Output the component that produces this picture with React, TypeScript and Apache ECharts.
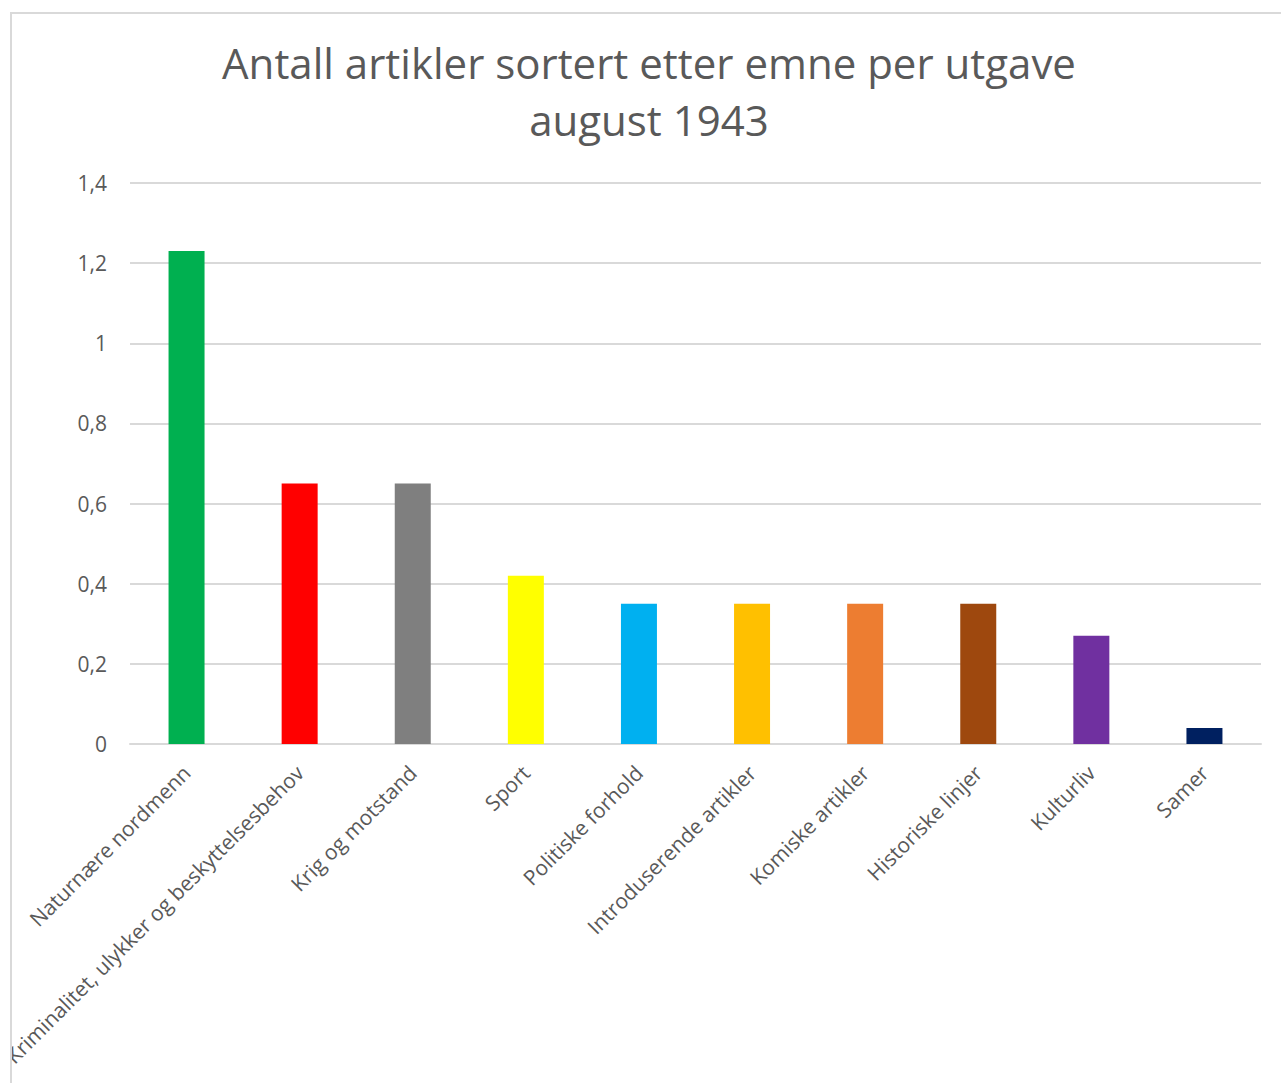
import React, { useEffect, useRef } from "react";
import * as echarts from "echarts";

const titleLines = ["Antall artikler sortert etter emne per utgave", "august 1943"];
const categories = [
  "Naturnære nordmenn",
  "Kriminalitet, ulykker og beskyttelsesbehov",
  "Krig og motstand",
  "Sport",
  "Politiske forhold",
  "Introduserende artikler",
  "Komiske artikler",
  "Historiske linjer",
  "Kulturliv",
  "Samer",
];
const values = [1.23, 0.65, 0.65, 0.42, 0.35, 0.35, 0.35, 0.35, 0.27, 0.04];
const barColors = [
  "#00B050",
  "#FF0000",
  "#7F7F7F",
  "#FFFF00",
  "#00B0F0",
  "#FFC000",
  "#ED7D31",
  "#9E480E",
  "#7030A0",
  "#002060",
];
const yMin = 0;
const yMax = 1.4;
const yStep = 0.2;

const FONT = "'Open Sans', sans-serif";
const TEXT = "#595959";

export default function App() {
  const ref = useRef<HTMLDivElement>(null);
  useEffect(() => {
    if (!ref.current) return;
    const chart = echarts.init(ref.current, undefined, { renderer: "svg" });
    chart.setOption({
      animation: false,
      backgroundColor: "#ffffff",
      title: {
        text: titleLines.join("\n"),
        left: 637,
        top: 20,
        padding: 0,
        textAlign: "center",
        textStyle: {
          fontFamily: FONT,
          fontSize: 42,
          fontWeight: "normal",
          color: TEXT,
          lineHeight: 57,
        },
      },
      grid: {
        left: 118,
        right: 20,
        top: 169,
        bottom: 339,
        containLabel: false,
        outerBoundsMode: "none",
      },
      xAxis: {
        type: "category",
        data: categories,
        axisLine: { show: true, lineStyle: { color: "#D9D9D9", width: 2 } },
        axisTick: { show: false },
        axisLabel: {
          interval: 0,
          rotate: 45,
          margin: 25,
          fontFamily: FONT,
          fontSize: 21,
          color: TEXT,
        },
      },
      yAxis: {
        type: "value",
        min: yMin,
        max: yMax,
        interval: yStep,
        axisLine: { show: false },
        axisTick: { show: false },
        splitLine: { lineStyle: { color: "#D9D9D9", width: 2 } },
        axisLabel: {
          margin: 23,
          fontFamily: FONT,
          fontSize: 21,
          color: TEXT,
          formatter: (v: number) => String(Math.round(v * 10) / 10).replace(".", ","),
        },
      },
      series: [
        {
          type: "bar",
          barWidth: 36,
          data: values.map((v, i) => ({ value: v, itemStyle: { color: barColors[i] } })),
        },
      ],
    });
    return () => chart.dispose();
  }, []);
  return (
    <div
      style={{
        position: "absolute",
        left: 10,
        top: 12,
        width: 1269,
        height: 1069,
        borderLeft: "2px solid #D9D9D9",
        borderTop: "2px solid #D9D9D9",
        background: "#fff",
        overflow: "hidden",
      }}
    >
      <div ref={ref} style={{ width: 1269, height: 1069 }} />
    </div>
  );
}
